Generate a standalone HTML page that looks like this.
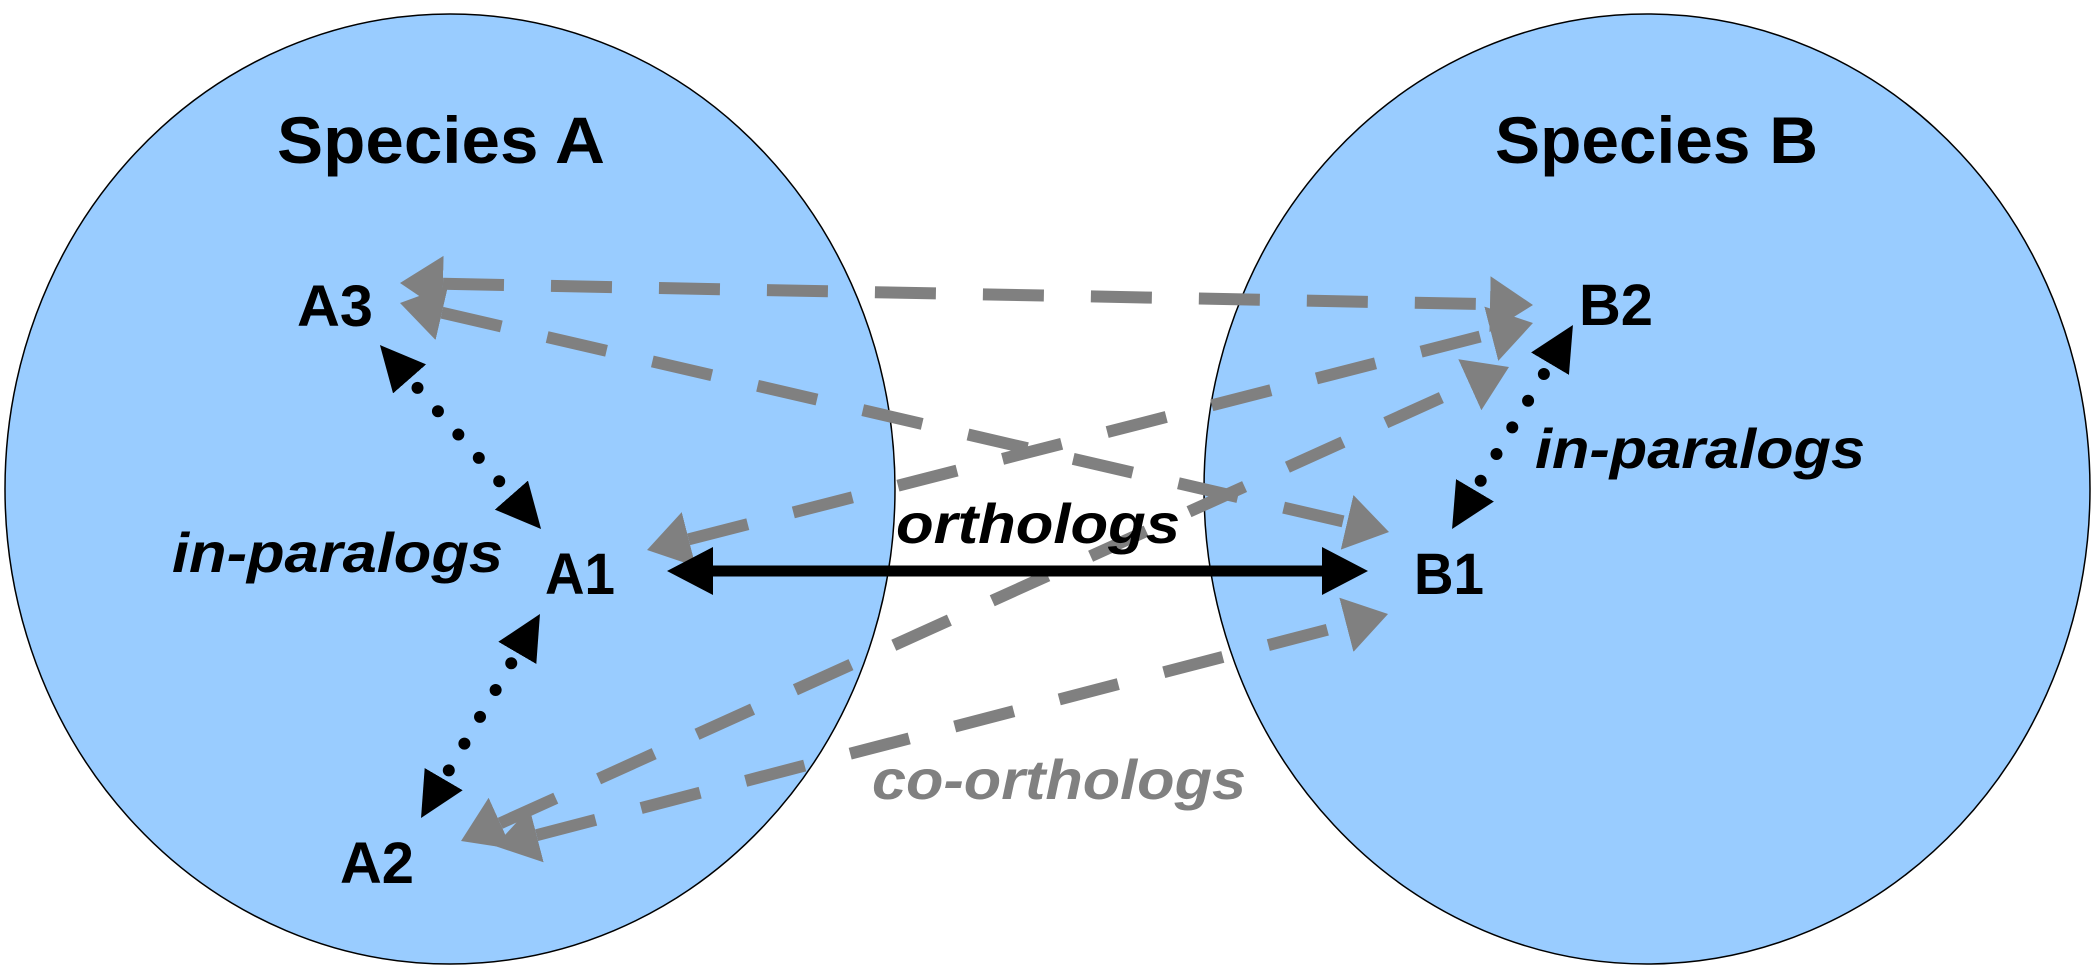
<!DOCTYPE html>
<html><head><meta charset="utf-8"><style>
html,body{margin:0;padding:0;background:#fff;}
svg{display:block;}
text{font-family:"Liberation Sans",Arial,sans-serif;font-weight:bold;}
</style></head><body>
<svg width="2097" height="975" viewBox="0 0 2097 975" xmlns="http://www.w3.org/2000/svg">
<defs>
<marker id="g" markerUnits="userSpaceOnUse" markerWidth="50" markerHeight="60" refX="0" refY="28" orient="auto-start-reverse" viewBox="0 0 50 60">
<path d="M0,0 L43,28 L0,56 Z" fill="#808080"/></marker>
<marker id="k" markerUnits="userSpaceOnUse" markerWidth="50" markerHeight="50" refX="0" refY="22" orient="auto-start-reverse" viewBox="0 0 50 50">
<path d="M0,0 L45,22 L0,44 Z" fill="#000"/></marker>
<marker id="kb" markerUnits="userSpaceOnUse" markerWidth="50" markerHeight="56" refX="0" refY="24" orient="auto-start-reverse" viewBox="0 0 50 56">
<path d="M0,0 L46,24 L0,48 Z" fill="#000"/></marker>
</defs>
<ellipse cx="450" cy="489" rx="445" ry="475" fill="#99CCFF" stroke="#000" stroke-width="1.5"/>
<ellipse cx="1647" cy="489" rx="443" ry="475" fill="#99CCFF" stroke="#000" stroke-width="1.5"/>

<g stroke="#808080" stroke-width="12" fill="none" stroke-dasharray="61 47">
<line x1="443" y1="283.8" x2="1490" y2="304.2" marker-start="url(#g)" marker-end="url(#g)"/>
<line x1="441.9" y1="312.7" x2="1347.1" y2="522.3" marker-start="url(#g)" marker-end="url(#g)"/>
<line x1="688.7" y1="539.3" x2="1491.3" y2="333.7" marker-start="url(#g)" marker-end="url(#g)"/>
<line x1="500.2" y1="823.3" x2="1469.8" y2="384.7" marker-start="url(#g)" marker-end="url(#g)"/>
<line x1="536.6" y1="835.2" x2="1346.4" y2="624.8" marker-start="url(#g)" marker-end="url(#g)"/>
</g>

<line x1="713" y1="571" x2="1322" y2="571" stroke="#000" stroke-width="11" marker-start="url(#kb)" marker-end="url(#kb)"/>

<g stroke="#000" stroke-width="12" stroke-linecap="round" fill="none" stroke-dasharray="0 31" stroke-dashoffset="-12">
<line x1="409.6" y1="378.9" x2="511.4" y2="495.1" marker-start="url(#k)" marker-end="url(#k)"/>
<line x1="517.3" y1="652.9" x2="443.7" y2="779.1" marker-start="url(#k)" marker-end="url(#k)"/>
<line x1="1550" y1="363.7" x2="1475" y2="490.3" marker-start="url(#k)" marker-end="url(#k)"/>
</g>

<text x="277" y="163" font-size="66" textLength="328" lengthAdjust="spacingAndGlyphs">Species A</text>
<text x="1495" y="163" font-size="66" textLength="323" lengthAdjust="spacingAndGlyphs">Species B</text>
<text x="297" y="326" font-size="58" textLength="76" lengthAdjust="spacingAndGlyphs">A3</text>
<text x="545" y="594" font-size="58" textLength="70" lengthAdjust="spacingAndGlyphs">A1</text>
<text x="340" y="883" font-size="58" textLength="74" lengthAdjust="spacingAndGlyphs">A2</text>
<text x="1414" y="594" font-size="58" textLength="70" lengthAdjust="spacingAndGlyphs">B1</text>
<text x="1579" y="325" font-size="58" textLength="74" lengthAdjust="spacingAndGlyphs">B2</text>
<text x="172" y="572" font-size="56" font-style="italic" textLength="331" lengthAdjust="spacingAndGlyphs">in-paralogs</text>
<text x="1535" y="468" font-size="56" font-style="italic" textLength="330" lengthAdjust="spacingAndGlyphs">in-paralogs</text>
<text x="896" y="543" font-size="56" font-style="italic" textLength="284" lengthAdjust="spacingAndGlyphs">orthologs</text>
<text x="872" y="799" font-size="56" font-style="italic" fill="#808080" textLength="374" lengthAdjust="spacingAndGlyphs">co-orthologs</text>
</svg>
</body></html>
